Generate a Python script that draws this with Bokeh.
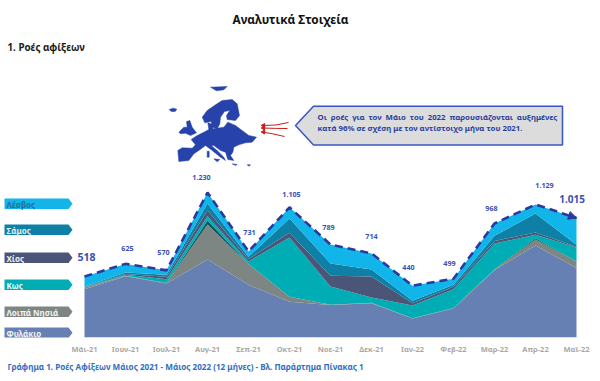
from bokeh.plotting import figure
from bokeh.models import Range1d, LinearAxis, FixedTicker, Title, Arrow, NormalHead
from bokeh.core.properties import value
from bokeh.embed import file_html
from bokeh.resources import INLINE

months = ["Μάι-21","Ιουν-21","Ιουλ-21","Αυγ-21","Σεπ-21","Οκτ-21","Νοε-21","Δεκ-21","Ιαν-22","Φεβ-22","Μαρ-22","Απρ-22","Μαϊ-22"]
fylakio  = [410,521,458,662,447,303,275,291,161,246,574,781,589]
loipa    = [12,3,3,297,175,42,2,3,2,3,3,51,56]
other    = [1,1,1,34,3,1,1,1,1,1,1,11,1]
kos      = [4,7,33,37,20,503,155,45,108,160,220,29,118]
chios    = [3,8,20,48,20,40,91,178,19,20,22,19,6]
samos    = [3,12,17,59,20,121,104,59,20,17,43,161,17]
lesvos   = [85,73,38,93,46,95,161,137,129,52,105,77,228]
bands = [fylakio, loipa, other, kos, chios, samos, lesvos]
band_colors = ["#6680B4","#7E8683","#0B5560","#00ADB5","#4A5578","#0E80A5","#12B5EA"]
totals = [sum(b[i] for b in bands) for i in range(len(months))]
tags = ["Λέσβος","Σάμος","Χίος","Κως","Λοιπά Νησιά","Φυλάκιο"]
tag_colors = ["#12B5EA","#0E80A5","#4A5578","#00ADB5","#7E8683","#6680B4"]
tag_text = ["#1F6F9A","#E6EEF2","#F2F2F2","#E8FAFA","#F2F2F2","#F2F2F2"]
title = "Αναλυτικά Στοιχεία"
heading = "1.  Ροές αφίξεων"
callout1 = "Οι ροές για τον Μάιο του 2022 παρουσιάζονται αυξημένες"
callout2 = "κατά 96% σε σχέση με τον αντίστοιχο μήνα του 2021."
caption = "Γράφημα 1. Ροές Αφίξεων Μάιος 2021 - Μάιος  2022 (12 μήνες) - Βλ. Παράρτημα  Πίνακας 1"

BLUE = "#3A50B4"
FONT = "Noto Sans"

p = figure(width=600, height=381, output_backend="svg", toolbar_location=None,
           x_range=Range1d(0, 600), y_range=Range1d(337, 0),
           x_axis_location=None, y_axis_location=None,
           min_border_left=0, min_border_right=0, min_border_top=0, min_border_bottom=44)
p.grid.visible = False
p.outline_line_color = None
p.extra_x_ranges["months"] = Range1d((0-84)/41, (600-84)/41)
p.extra_y_ranges["flows"] = Range1d(0, 337/0.1178)

idx = list(range(len(months)))
ax = LinearAxis(x_range_name="months", ticker=FixedTicker(ticks=idx),
                major_label_overrides={i: m for i, m in enumerate(months)})
ax.axis_line_color = None
ax.major_tick_line_color = None
ax.minor_tick_line_color = None
ax.major_tick_out = 0
ax.major_tick_in = 0
ax.major_label_text_color = "#ABA8A4"
ax.major_label_text_font = FONT
ax.major_label_text_font_size = "7.5px"
ax.major_label_text_font_style = "bold"
ax.major_label_standoff = 6
p.add_layout(ax, "below")
p.add_layout(Title(text=caption, text_color="#2E6FC4", text_font=FONT, text_font_size="8.1px",
                   text_font_style="bold", align="left", offset=7, standoff=4), "below")

# stacked areas
low = [0]*len(months)
for b, c in zip(bands, band_colors):
    high = [l+v for l, v in zip(low, b)]
    p.varea(x=idx, y1=low, y2=high, fill_color=c, x_range_name="months", y_range_name="flows")
    low = high

# total outline
p.line(idx, totals, line_color="#2A3A9E", line_width=2.6, line_dash="8 5",
       x_range_name="months", y_range_name="flows")
p.add_layout(Arrow(end=NormalHead(size=8, fill_color="#2A3A9E", line_color="#2A3A9E"),
                   x_start=idx[-1]-0.15, y_start=totals[-1]+0.15*(totals[-2]-totals[-1]),
                   x_end=idx[-1], y_end=totals[-1], line_color="#2A3A9E", line_width=1,
                   x_range_name="months", y_range_name="flows"))

# value labels
fmt = lambda v: f"{v:,}".replace(",", ".")
dx = [2,2,-3,-6,1,2,-2,0,-4,-4,-3,9,-4.5]
dy = [-19,-15,-18,-15,-19,-13,-17,-17,-18,-15,-15,-19,-19]
sizes = ["10.5px"]+["7.2px"]*11+["10px"]
for i, v in enumerate(totals):
    p.text([i],[v],text=[fmt(v)],text_color=BLUE,text_font=value(FONT),text_font_style="bold",
           text_font_size=sizes[i],text_align="center",text_baseline="middle",
           x_offset=dx[i],y_offset=dy[i],x_range_name="months",y_range_name="flows")

# headings
p.text([290],[18],text=[title],text_color="#111111",text_font=value(FONT),text_font_style="bold",
       text_font_size="11.8px",text_align="center",text_baseline="middle")
p.text([7],[47],text=[heading],text_color="#1A1A1A",text_font=value(FONT),text_font_style="bold",
       text_font_size="9.8px",text_align="left",text_baseline="middle")

# legend tags
tag_top = [198,224,252,279,306,327]
for t, top, c, tc in zip(tags, tag_top, tag_colors, tag_text):
    p.patch([4,68,72,68,4],[top,top,top+5.2,top+10.5,top+10.5],fill_color=c,line_color=None)
    p.text([6],[top+5.5],text=[t],text_color=tc,text_font=value(FONT),text_font_size="8px",
           text_align="left",text_baseline="middle",text_font_style="bold")

# callout
p.patch([295,313,562,562,313],[125,105.7,105.7,144.5,144.5],fill_color="#DCDCDC",
        line_color="#3A55C0",line_width=1.5)
p.text([317],[116.5],text=[callout1.replace(" ", "\u2002")],text_color="#2A3F9C",text_font=value(FONT),text_font_style="bold",
       text_font_size="7.8px",text_align="left",text_baseline="middle")
p.text([317],[127.5],text=[callout2],text_color="#2A3F9C",text_font=value(FONT),text_font_style="bold",
       text_font_size="7.8px",text_align="left",text_baseline="middle")

# europe silhouette (traced decoration; crop coordinates at 3x, origin 170,85)
mainland = [(25,228),(22,195),(35,187),(65,188),(75,178),(62,162),(80,150),(100,140),(115,132),(112,112),(125,116),(127,130),
            (160,125),(172,110),(195,120),(215,135),(235,150),(258,155),(245,170),(225,172),(205,178),(190,185),(187,200),
            (180,210),(190,225),(172,222),(165,200),(150,195),(130,180),(122,180),(140,195),(160,215),(165,225),(150,215),
            (125,195),(105,180),(85,195),(70,205),(55,225)]
scand = [(95,95),(110,75),(135,58),(155,45),(185,42),(200,55),(207,90),(195,105),(170,102),(168,90),(178,75),(162,78),
         (150,95),(148,115),(140,130),(125,125),(122,108),(103,112)]
uk = [(25,140),(40,125),(50,125),(48,108),(58,105),(65,125),(78,142),(60,150),(45,143),(30,145)]
iceland = [(-4,72),(8,68),(19,71),(14,78),(2,78)]
svalbard = [(120,5),(170,3),(160,13),(138,16)]
corsica = [(110,197),(116,197),(116,215),(110,215)]
sicily = [(130,220),(148,222),(140,229)]
crete = [(185,235),(200,237),(195,240)]
cyprus = [(230,238),(240,238),(236,242)]
for shape in [mainland, scand, uk, iceland, svalbard, corsica, sicily, crete, cyprus]:
    p.patch([170+a/3 for a, _ in shape],[85+b/3 for _, b in shape],fill_color="#2743AB",line_color="#2743AB",line_width=0.5)

# red arrows
RED = "#C81E1E"
p.quadratic(x0=[288,287,284],y0=[122,128,136],x1=[262,262,262],y1=[125,127.5,131.5],
            cx=[276,275,272],cy=[125.5,128,133],line_color=RED,line_width=1)
p.scatter([263,263,263],[125,127.5,131.5],marker="triangle",size=4,angle=1.57,fill_color=RED,line_color=RED)

open("out.html", "w").write(file_html(p, INLINE))
